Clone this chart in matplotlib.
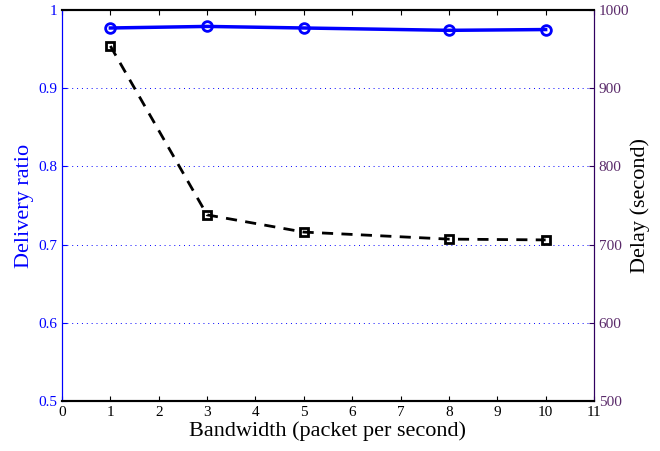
import matplotlib
matplotlib.use("Agg")
import matplotlib.pyplot as plt

plt.rcParams['font.family'] = ['Liberation Serif', 'DejaVu Serif']

bandwidth = [1, 3, 5, 8, 10]
delivery_ratio = [0.977, 0.979, 0.977, 0.974, 0.975]
delay = [954, 738, 716, 707, 706]

fig = plt.figure(figsize=(6.6, 4.51), dpi=100)
ax = fig.add_axes([62/660, 50/451, 532/660, 391/451])
ax2 = ax.twinx()

ax.plot(bandwidth, delivery_ratio, color='blue', lw=2.5, marker='o',
        markersize=7, markerfacecolor='none', markeredgewidth=2, zorder=3)
ax2.plot(bandwidth, delay, color='black', lw=2, ls=(0, (4, 3)), marker='s',
         markersize=6, markerfacecolor='none', markeredgewidth=2)

ax.set_xlim(0, 11)
ax.set_ylim(0.5, 1)
ax2.set_ylim(500, 1000)
ax.set_xticks(range(0, 12))
ax.set_yticks([0.5, 0.6, 0.7, 0.8, 0.9, 1])
ax.set_yticklabels(['0.5', '0.6', '0.7', '0.8', '0.9', '1'])
ax2.set_yticks([500, 600, 700, 800, 900, 1000])

ax.yaxis.grid(True, color='blue', ls=(0, (1, 4)), lw=0.7)
ax.set_axisbelow(True)

purple = '#5a2a6a'
ax.tick_params(axis='x', direction='in', top=True, labelsize=11, colors='black')
ax.tick_params(axis='y', direction='in', labelsize=11, colors='blue')
ax2.tick_params(axis='y', direction='in', labelsize=11, colors=purple)
ax2.tick_params(axis='y', color='#300060')

for a in (ax, ax2):
    a.spines['bottom'].set_linewidth(1.5)
    a.spines['top'].set_linewidth(1.5)
ax2.spines['left'].set_color('blue')
ax2.spines['right'].set_color('#300060')
ax.spines['left'].set_color('blue')
ax.spines['right'].set_color('#300060')

ax.set_xlabel('Bandwidth (packet per second)', fontsize=16, labelpad=2)
ax.set_ylabel('Delivery ratio', fontsize=16, color='blue', labelpad=3)
ax2.set_ylabel('Delay (second)', fontsize=16, color='black', labelpad=1)

fig.savefig('out.png', dpi=100)
